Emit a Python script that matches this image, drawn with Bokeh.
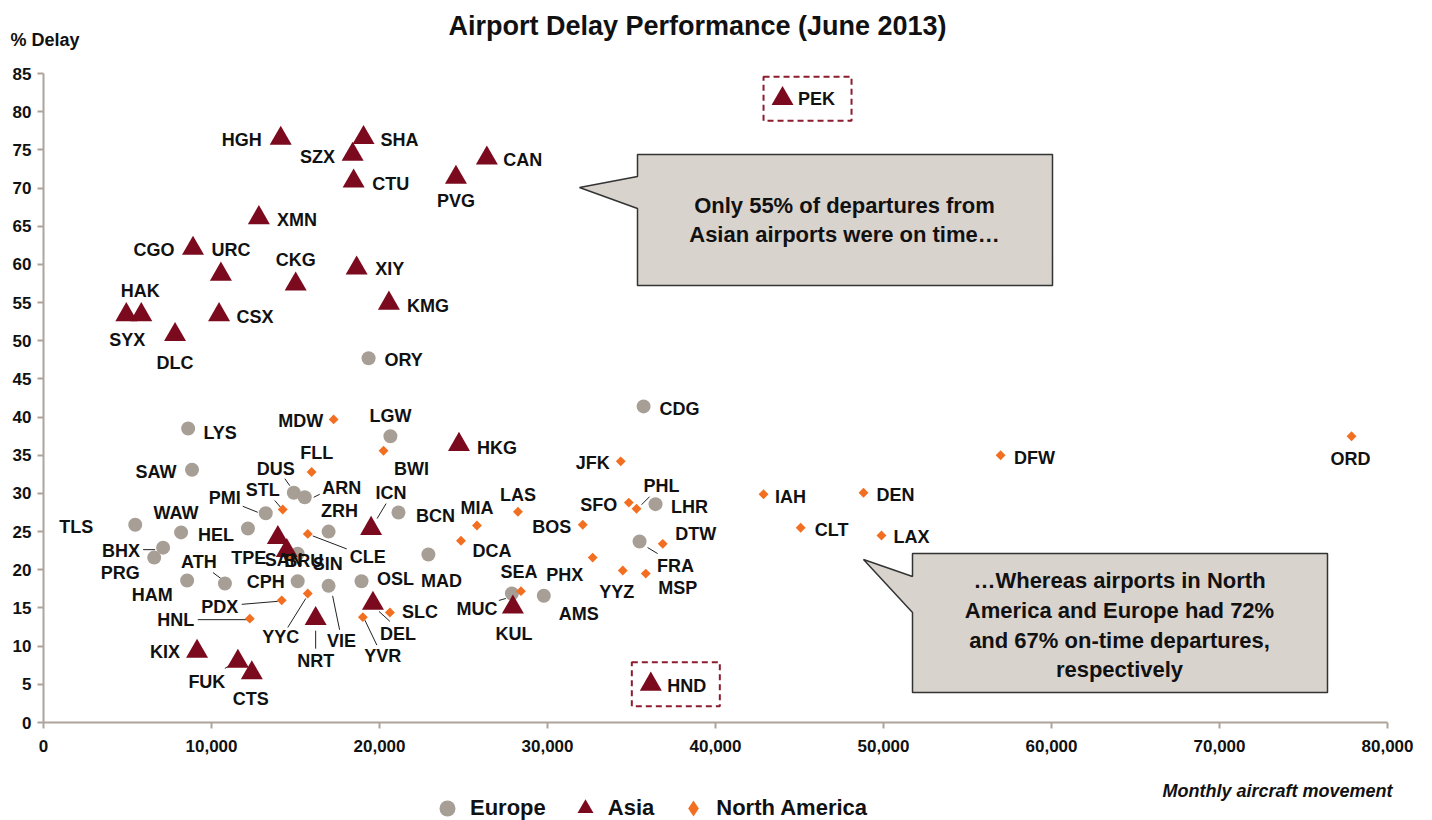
import numpy as np
from bokeh.plotting import figure
from bokeh.models import (Range1d, FixedTicker, NumeralTickFormatter, Label,
                          Legend, LegendItem, ColumnDataSource)
from bokeh.core.properties import value
from bokeh.embed import file_html
from bokeh.resources import INLINE

# ---------------- data ----------------
eu_code = ["ORY", "CDG", "LYS", "LGW", "SAW", "DUS", "ARN", "PMI", "BCN", "TLS", "WAW", "HEL", "ZRH",
           "BHX", "PRG", "MAD", "FRA", "LHR", "HAM", "ATH", "CPH", "VIE", "OSL", "MUC", "AMS", "BRU"]
eu_moves = [19350, 35720, 8610, 20650, 8840, 14900, 15550, 13230, 21130, 5460, 8190, 12170, 16970,
            7120, 6590, 22910, 35480, 36430, 8550, 10800, 15130, 16970, 18930, 27880, 29780, 15130]
eu_delay = [47.7, 41.4, 38.5, 37.5, 33.1, 30.1, 29.5, 27.4, 27.5, 25.9, 24.9, 25.4, 25.0,
            22.9, 21.6, 22.0, 23.7, 28.6, 18.6, 18.2, 18.5, 17.9, 18.5, 16.9, 16.6, 22.1]

asia_code = ["PEK", "HGH", "SHA", "SZX", "CAN", "CTU", "PVG", "XMN", "CGO", "URC", "CKG", "XIY", "HAK",
             "SYX", "CSX", "KMG", "DLC", "HKG", "ICN", "TPE", "SIN", "NRT", "DEL", "KUL", "KIX", "FUK",
             "CTS", "HND"]
asia_moves = [43990, 14120, 19050, 18400, 26390, 18460, 24550, 12820, 8900, 10560, 15010, 18640, 5820,
              4930, 10450, 20560, 7830, 24730, 19500, 13950, 14480, 16200, 19610, 27940, 9140, 11570,
              12400, 36150]
asia_delay = [81.7, 76.5, 76.6, 74.4, 73.9, 70.9, 71.4, 66.1, 62.1, 58.7, 57.4, 59.5, 53.4,
              53.4, 53.4, 54.9, 50.8, 36.4, 25.4, 24.2, 22.5, 13.6, 15.6, 15.1, 9.3, 8.0,
              6.5, 5.0]

na_code = ["MDW", "BWI", "FLL", "STL", "CLE", "MIA", "DCA", "LAS", "BOS", "SFO", "PHL", "JFK", "DTW",
           "PHX", "YYZ", "MSP", "SEA", "SLC", "YVR", "YYC", "PDX", "HNL", "IAH", "DEN", "CLT", "LAX",
           "DFW", "ORD", "SAN"]
na_moves = [17270, 20240, 15960, 14240, 15730, 25800, 24850, 28240, 32100, 34840, 35300, 34360, 36860,
            32690, 34480, 35850, 28420, 20620, 19010, 15730, 14180, 12280, 42860, 48810, 45070, 49880,
            56970, 77860, 14780]
na_delay = [39.7, 35.6, 32.8, 27.9, 24.7, 25.8, 23.8, 27.6, 25.9, 28.8, 28.0, 34.2, 23.4,
            21.6, 19.9, 19.5, 17.2, 14.4, 13.8, 16.9, 16.0, 13.6, 29.9, 30.1, 25.5, 24.5,
            35.0, 37.5, 21.5]

series_names = ["Europe", "Asia", "North America"]
x_ticks = list(range(0, 80001, 10000))
y_ticks = list(range(0, 86, 5))

title_text = "Airport Delay Performance (June 2013)"
y_title = "% Delay"
x_title = "Monthly aircraft movement"
callout1 = ["Only 55% of departures from", "Asian airports were on time\u2026"]
callout2 = ["\u2026Whereas airports in North", "America and Europe had 72%",
            "and 67% on-time departures,", "respectively"]

# ---------------- label placement (screen px offsets, y down) ----------------
label_off = {
    "PEK": (34, 0), "HGH": (-39, 2), "SHA": (36, 2), "SZX": (-35, 3), "CAN": (36, 2), "CTU": (37, 3),
    "PVG": (0, 24), "XMN": (38, 2), "CGO": (-39, 2), "URC": (10, -24), "CKG": (0, -24), "XIY": (33, 1),
    "HAK": (-1, -24), "SYX": (1, 25), "CSX": (36, 2), "KMG": (39, 3), "DLC": (0, 28), "HKG": (38, 3),
    "ICN": (20, -36), "TPE": (-29, 20), "SIN": (41, 13), "NRT": (0, 42), "DEL": (25, 31), "KUL": (1, 27),
    "KIX": (-32, 1), "FUK": (-31, 21), "CTS": (-1, 26), "HND": (36, 2),
    "ORY": (35, 2), "CDG": (36, 3), "LYS": (32, 4), "LGW": (0, -20), "SAW": (-36, 2), "DUS": (-18, -24),
    "ARN": (37, -9), "PMI": (-41, -15), "BCN": (37, 3), "TLS": (-59, 2), "WAW": (-5, -19), "HEL": (-32, 6),
    "ZRH": (11, -21), "BHX": (-42, 3), "PRG": (-34, 15), "MAD": (13, 26), "FRA": (36, 24), "LHR": (34, 3),
    "HAM": (-35, 15), "ATH": (-26, -22), "CPH": (-32, 1), "VIE": (13, 55), "OSL": (34, -2),
    "MUC": (-35, 16), "AMS": (35, 18), "BRU": (6, 7),
    "MDW": (-33, 2), "BWI": (28, 18), "FLL": (5, -19), "STL": (-20, -19), "CLE": (60, 23), "MIA": (0, -18),
    "DCA": (31, 10), "LAS": (0, -17), "BOS": (-31, 2), "SFO": (-30, 2), "PHL": (25, -23), "JFK": (-28, 2),
    "DTW": (33, -10), "PHX": (-28, 17), "YYZ": (-6, 21), "MSP": (32, 14), "SEA": (-2, -19), "SLC": (30, -1),
    "YVR": (20, 39), "YYC": (-27, 44), "PDX": (-62, 7), "HNL": (-74, 1), "IAH": (27, 3), "DEN": (32, 2),
    "CLT": (31, 2), "LAX": (30, 2), "DFW": (34, 3), "ORD": (-1, 23), "SAN": (-8, 2),
}
leader_off = {
    "ICN": (6, -10, 15, -25), "NRT": (0, 12, 0, 30), "DEL": (6, 8, 17, 18), "FUK": (-8, 4, -13, 7),
    "DUS": (-4, -7, -9, -14), "ARN": (9, 0, 15, -3), "PMI": (-8, -1, -23, -7), "BHX": (-8, 2, -20, 2),
    "FRA": (8, 6, 18, 12), "ATH": (-4, -5, -12, -11), "VIE": (4, 10, 11, 44), "MUC": (-6, 5, -13, 7),
    "STL": (-2, -2, -8, -9), "CLE": (5, 2, 39, 15), "PHL": (5, -4, 13, -12), "YVR": (2, 3, 14, 28),
    "YYC": (-2, 5, -20, 34), "PDX": (-4, 1, -40, 4), "HNL": (-3, 1, -52, 1),
}

# ---------------- styling / geometry ----------------
FONT = "Liberation Sans"
EU_C, AS_C, NA_C = "#A79E95", "#7B0A1E", "#F26F21"
AX_C = "#ADA49B"
TXT_C = "#111111"
BOX_FILL, BOX_LINE = "#D9D3CE", "#333333"
DASH_C = "#8C1C2E"

W, H = 1432, 820
# where the axes sit on the canvas (px)
AX_LEFT, AX_RIGHT, AX_TOP, AX_BOTTOM = 43, 1387, 73, 722
XMIN, XMAX, YMIN, YMAX = 0, 80000, 0, 85
UX = (XMAX - XMIN) / (AX_RIGHT - AX_LEFT)   # data units per px
UY = (YMAX - YMIN) / (AX_BOTTOM - AX_TOP)
xr = Range1d(XMIN - AX_LEFT * UX, XMAX + (W - AX_RIGHT) * UX)
yr = Range1d(YMIN - (H - AX_BOTTOM) * UY, YMAX + AX_TOP * UY)


def pg(px, py):
    """canvas pixel -> data coordinates (annotations only)"""
    return xr.start + px * UX, yr.end - py * UY


p = figure(width=W, height=H, x_range=xr, y_range=yr,
           output_backend="svg", toolbar_location=None,
           min_border_left=0, min_border_right=0, min_border_top=0, min_border_bottom=0)
p.outline_line_color = None
p.xgrid.visible = False
p.ygrid.visible = False
p.background_fill_color = "white"
p.border_fill_color = "white"

for ax in (p.xaxis[0], p.yaxis[0]):
    ax.fixed_location = 0
    ax.axis_line_color = AX_C
    ax.axis_line_width = 2
    ax.major_tick_line_color = AX_C
    ax.major_tick_line_width = 2
    ax.major_tick_out = 6
    ax.major_tick_in = 0
    ax.minor_tick_line_color = None
    ax.major_label_text_font = FONT
    ax.major_label_text_font_style = "bold"
    ax.major_label_text_font_size = "17px"
    ax.major_label_text_color = TXT_C
p.xaxis.ticker = FixedTicker(ticks=x_ticks)
p.xaxis.formatter = NumeralTickFormatter(format="0,0")
p.xaxis.bounds = (XMIN, XMAX)
p.yaxis.ticker = FixedTicker(ticks=y_ticks)
p.yaxis.bounds = (YMIN, YMAX)
p.xaxis.major_label_standoff = 11
p.yaxis.major_label_standoff = 6


# callout boxes
def callout(pts, lines, cx, ys):
    xs, yv = zip(*[pg(a, b) for a, b in pts])
    p.patch(list(xs), list(yv), fill_color=BOX_FILL, line_color=BOX_LINE, line_width=1.5)
    tx, ty = zip(*[pg(cx, y) for y in ys])
    p.text(x=list(tx), y=list(ty), text=lines, text_font=value(FONT), text_font_style="bold",
           text_font_size="22px", text_align="center", text_baseline="middle", text_color=TXT_C)


callout([(637, 154), (1052, 154), (1052, 285), (637, 285), (637, 208), (579, 187), (637, 176)],
        callout1, 844, [205, 234])
callout([(912, 553), (1327, 553), (1327, 692), (912, 692), (912, 612), (863, 559), (912, 576)],
        callout2, 1119, [580, 610, 640, 669])

# dashed highlight boxes around PEK and HND
for code in ("PEK", "HND"):
    i = asia_code.index(code)
    p.rect(x=[asia_moves[i] + 25 * UX], y=[asia_delay[i]], width=88, height=44,
           width_units="screen", height_units="screen", fill_color=None,
           line_color=DASH_C, line_width=2, line_dash="6 4")

# leader lines
all_code = eu_code + asia_code + na_code
all_x = eu_moves + asia_moves + na_moves
all_y = eu_delay + asia_delay + na_delay
lx0, ly0, lx1, ly1 = [], [], [], []
for c, x, y in zip(all_code, all_x, all_y):
    if c in leader_off:
        a, b, cc, d = leader_off[c]
        lx0.append(x + a * UX); ly0.append(y - b * UY)
        lx1.append(x + cc * UX); ly1.append(y - d * UY)
p.segment(lx0, ly0, lx1, ly1, line_color="#222222", line_width=1)

# points
p.scatter(eu_moves, eu_delay, marker="circle", size=14, fill_color=EU_C, line_color=None)
p.scatter(asia_moves, asia_delay, marker="triangle", size=22, fill_color=AS_C, line_color=None)
p.scatter(na_moves, na_delay, marker="square", angle=np.pi / 4, size=7, fill_color=NA_C, line_color=None)

# point labels
lab = ColumnDataSource(dict(x=all_x, y=all_y, t=all_code,
                            dx=[label_off[c][0] for c in all_code],
                            dy=[label_off[c][1] for c in all_code]))
p.text(x="x", y="y", text="t", x_offset="dx", y_offset="dy", source=lab,
       text_font=value(FONT), text_font_style="bold", text_font_size="18px",
       text_align="center", text_baseline="middle", text_color=TXT_C)

# titles
tx, ty = pg(697, 25)
p.add_layout(Label(x=tx, y=ty, text=title_text, text_font=FONT, text_font_style="bold",
                   text_font_size="27px", text_align="center", text_baseline="middle",
                   text_color=TXT_C))
tx, ty = pg(10, 39)
p.add_layout(Label(x=tx, y=ty, text=y_title, text_font=FONT, text_font_style="bold",
                   text_font_size="18px", text_align="left", text_baseline="middle",
                   text_color=TXT_C))
tx, ty = pg(1392, 790)
p.add_layout(Label(x=tx, y=ty, text=x_title, text_font=FONT, text_font_style="bold italic",
                   text_font_size="18px", text_align="right", text_baseline="middle",
                   text_color=TXT_C))

# legend (proxy renderers far outside the visible range)
g_eu = p.scatter([-1e7], [-1e7], marker="circle", fill_color=EU_C, line_color=None)
g_as = p.scatter([-1e7], [-1e7], marker="triangle", fill_color=AS_C, line_color=None)
g_na = p.scatter([-1e7], [-1e7], marker="diamond", fill_color=NA_C, line_color=None)
legend = Legend(items=[LegendItem(label=series_names[0], renderers=[g_eu]),
                       LegendItem(label=series_names[1], renderers=[g_as]),
                       LegendItem(label=series_names[2], renderers=[g_na])],
                orientation="horizontal", location=(427, -8),
                border_line_color=None, background_fill_alpha=0,
                label_text_font=FONT, label_text_font_style="bold", label_text_font_size="22px",
                label_text_color=TXT_C,
                glyph_width=40, glyph_height=40, label_standoff=3, spacing=19,
                padding=0, margin=0)
p.add_layout(legend)

open("out.html", "w").write(file_html(p, INLINE))
